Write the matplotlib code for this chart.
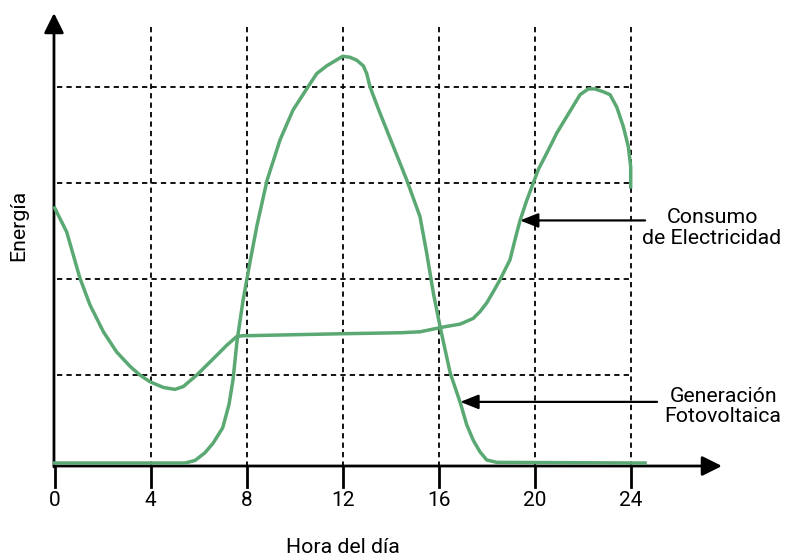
import matplotlib
matplotlib.use('Agg')
import matplotlib.pyplot as plt

plt.rcParams['font.family'] = ['Roboto', 'DejaVu Sans']
plt.rcParams['lines.scale_dashes'] = False

# DATA
hours = [0, 4, 8, 12, 16, 20, 24]
hour_labels = ['0', '4', '8', '12', '16', '20', '24']
grid_levels = [1, 2, 3, 4]

# photovoltaic generation
pv_hours = [0.0, 5.43, 5.85, 6.26, 6.6, 7.0, 7.26, 7.43, 7.6, 7.85, 8.14, 8.43, 8.85,
            9.39, 9.93, 10.55, 10.92, 11.33, 12.0, 12.3, 12.58, 12.86, 13.0, 13.14,
            13.55, 14.11, 14.67, 15.22, 15.5, 15.78, 16.06, 16.48, 16.9, 17.17,
            17.44, 17.72, 18.0, 18.42, 24.6]
pv_energy = [0.083, 0.083, 0.11, 0.19, 0.29, 0.45, 0.69, 0.95, 1.36, 1.78, 2.18, 2.56, 3.03,
             3.45, 3.76, 4.0, 4.14, 4.22, 4.32, 4.31, 4.28, 4.22, 4.14, 4.0,
             3.73, 3.38, 3.03, 2.65, 2.27, 1.85, 1.5, 1.02, 0.71, 0.48,
             0.32, 0.20, 0.115, 0.09, 0.083]

# electricity consumption
demand_hours = [0.0, 0.22, 0.5, 1.05, 1.47, 2.03, 2.58, 3.14, 3.55, 3.97, 4.53, 5.01, 5.36,
                5.92, 6.61, 7.17, 7.58, 7.86, 8.14, 12.0, 14.39, 15.22, 16.19, 16.89,
                17.17, 17.44, 17.72, 18.0, 18.28, 18.55, 18.97, 19.18, 19.39, 19.67,
                19.94, 20.15, 20.5, 20.92, 21.33, 21.89, 22.23, 22.51, 22.86, 23.14,
                23.42, 23.69, 23.9, 24.0, 24.0]
demand_energy = [2.74, 2.63, 2.49, 2.01, 1.73, 1.45, 1.24, 1.09, 1.0, 0.93, 0.87, 0.85, 0.88,
                 1.0, 1.17, 1.31, 1.40, 1.41, 1.41, 1.43, 1.44, 1.45, 1.50, 1.53,
                 1.56, 1.59, 1.66, 1.75, 1.87, 1.99, 2.20, 2.41, 2.61, 2.82,
                 3.0, 3.14, 3.31, 3.52, 3.69, 3.92, 3.98, 3.98, 3.95, 3.92,
                 3.79, 3.59, 3.38, 3.17, 2.96]

GREEN = '#5aa872'
AXIS_Y = 0.052   # where the horizontal axis sits
TOP = 4.625      # top of vertical grid lines

fig = plt.figure(figsize=(7.87, 5.58), dpi=100)
ax = fig.add_axes([0, 0, 1, 1])
ax.set_xlim(-54.7 / 24, (787 - 54.7) / 24)
ax.set_ylim(1 - 183 / 96, 1 + 375 / 96)
ax.axis('off')

# dashed grid
for h in hours[1:]:
    ax.plot([h, h], [TOP, AXIS_Y], color='black', lw=1.3, dashes=(3.8, 3.0), zorder=1)
for lev in grid_levels:
    ax.plot([0.1, 24], [lev, lev], color='black', lw=1.3, dashes=(3.8, 3.0), zorder=1)

# axes with arrow heads
axis_arrow = dict(arrowstyle='-|>,head_length=0.6,head_width=0.3', mutation_scale=20,
                  lw=2, color='black', shrinkA=0, shrinkB=0)
ax.annotate('', xy=(27.8, AXIS_Y), xytext=(-0.03, AXIS_Y), arrowprops=axis_arrow)
ax.annotate('', xy=(-0.03, 4.77), xytext=(-0.03, AXIS_Y - 0.01), arrowprops=axis_arrow)

# ticks and labels
for h, lab in zip(hours, hour_labels):
    ax.plot([h, h], [AXIS_Y, AXIS_Y - 0.219], color='black', lw=2)
    ax.text(h, -0.31, lab, ha='center', va='center', fontsize=15)

ax.text(12.0, -0.80, 'Hora del día', ha='center', va='center', fontsize=15.3)
ax.text(-1.5, 2.56, 'Energía', ha='center', va='center', rotation=90, fontsize=15.3)

# curves
ax.plot(pv_hours, pv_energy, color=GREEN, lw=2.5, solid_joinstyle='round', zorder=3)
ax.plot(demand_hours, demand_energy, color=GREEN, lw=2.5, solid_joinstyle='round', zorder=3)

# callouts
label_arrow = dict(arrowstyle='-|>,head_length=0.55,head_width=0.22', mutation_scale=20,
                   lw=1.6, color='black', shrinkA=0, shrinkB=0)
ax.annotate('', xy=(19.39, 2.61), xytext=(24.6, 2.61), arrowprops=label_arrow, zorder=4)
ax.text(27.39, 2.53, 'Consumo\nde Electricidad', ha='center', va='center',
        multialignment='center', fontsize=15.3, linespacing=1.1)

ax.annotate('', xy=(16.9, 0.72), xytext=(25.1, 0.72), arrowprops=label_arrow, zorder=4)
ax.text(27.85, 0.672, 'Generación\nFotovoltaica', ha='center', va='center',
        multialignment='center', fontsize=15.3, linespacing=1.1)

fig.savefig('out.png', dpi=100)
